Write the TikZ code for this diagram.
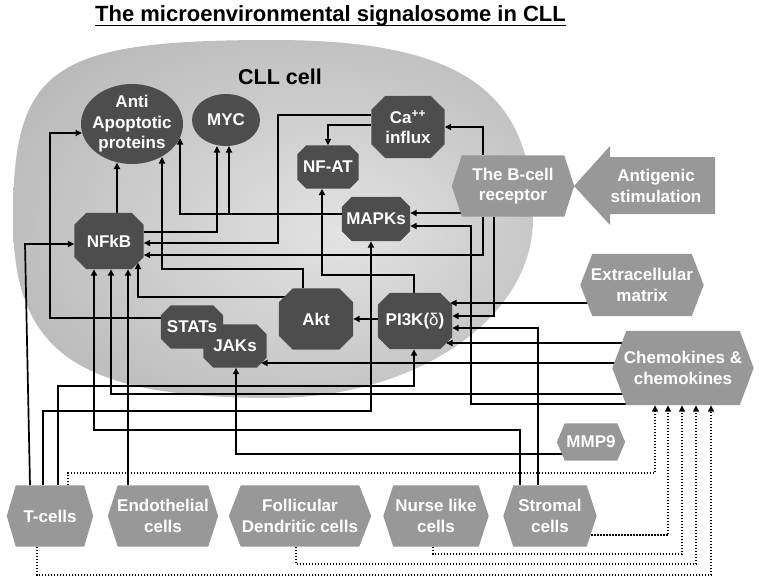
\documentclass[tikz,border=0pt]{standalone}
\usepackage{fontspec}
\setmainfont{Liberation Sans}
\usetikzlibrary{arrows.meta}
\definecolor{darkc}{RGB}{77,77,77}
\definecolor{lightc}{RGB}{152,152,152}
\definecolor{cellin}{gray}{0.89}
\definecolor{cellout}{gray}{0.73}
\pgfdeclarelayer{bg}
\pgfdeclarelayer{lines}
\pgfdeclarelayer{shapes}
\pgfsetlayers{bg,lines,shapes,main}
\pgfdeclareradialshading{cellshade}{\pgfpoint{7bp}{-2bp}}{color(0bp)=(cellin); color(31bp)=(cellout); color(50bp)=(cellout)}
\newcommand\myoct[2]{%
\fill[darkc] ([shift={(#2,0)}]#1.north west) -- ([shift={(-#2,0)}]#1.north east) -- ([shift={(0,#2)}]#1.north east) -- ([shift={(0,-#2)}]#1.south east) -- ([shift={(-#2,0)}]#1.south east) -- ([shift={(#2,0)}]#1.south west) -- ([shift={(0,-#2)}]#1.south west) -- ([shift={(0,#2)}]#1.north west) -- cycle;}
\newcommand\myhex[2]{%
\fill[lightc] (#1.west) -- ([shift={(#2,0)}]#1.north west) -- ([shift={(-#2,0)}]#1.north east) -- (#1.east) -- ([shift={(-#2,0)}]#1.south east) -- ([shift={(#2,0)}]#1.south west) -- cycle;}
\tikzset{
  lbl/.style={inner sep=0pt, text=white, font=\bfseries\fontsize{17}{20.5}\selectfont, align=center},
  arr/.style={line width=1.7pt, -{Triangle[length=6.5pt,width=6pt]}},
  dotarr/.style={line width=1.5pt, dash pattern=on 1.5pt off 1.5pt, -{Triangle[length=6.5pt,width=6pt]}},
}
\begin{document}
\begin{tikzpicture}[x=1pt,y=-1pt]
\useasboundingbox (0,0) rectangle (762,583);
% title
\node[anchor=base west, inner sep=0pt, font=\bfseries\fontsize{22}{24}\selectfont] (title) at (95,22) {The microenvironmental signalosome in CLL};
\draw[line width=1.7pt] ([shift={(0,3.5)}]title.base west) -- ([shift={(0,3.5)}]title.base east);
% cell label
\node[anchor=base, inner sep=0pt, font=\bfseries\fontsize{21.5}{24}\selectfont] (cll) at (280,85) {CLL cell};
% dark nodes
\node[lbl, minimum width=102, minimum height=80] (aap) at (132,124) {Anti\\Apoptotic\\proteins};
\node[lbl, minimum width=68, minimum height=52] (myc) at (226,120) {MYC};
\node[lbl, minimum width=61, minimum height=43] (nfat) at (328,167) {NF-AT};
\node[lbl, minimum width=73, minimum height=62] (ca) at (408,127) {Ca\textsuperscript{++}\\influx};
\node[lbl, minimum width=68, minimum height=44] (mapk) at (376,219) {MAPKs};
\node[lbl, minimum width=69, minimum height=56] (nfkb) at (109,241) {NFkB};
\node[lbl, minimum width=74, minimum height=61] (akt) at (316,319) {Akt};
\node[lbl, minimum width=74, minimum height=56] (pi3k) at (415,321) {PI3K({\mdseries δ})};
\node[lbl, minimum width=62, minimum height=43] (stats) at (192,327) {STATs};
\node[lbl, minimum width=63, minimum height=43] (jaks) at (235,346) {JAKs};
% light nodes
\node[lbl, minimum width=122, minimum height=61] (bcr) at (513,186) {The B-cell\\receptor};
\node[lbl] (antig) at (656,186) {Antigenic\\stimulation};
\node[lbl, minimum width=123, minimum height=62] (ecm) at (642,285) {Extracellular\\matrix};
\node[lbl, minimum width=141, minimum height=74] (chem) at (683,368) {Chemokines \&\\chemokines};
\node[lbl, minimum width=68, minimum height=37] (mmp9) at (591,442) {MMP9};
\node[lbl, minimum width=86, minimum height=61] (tcell) at (50,516) {T-cells};
\node[lbl, minimum width=110, minimum height=61] (endo) at (163,516) {Endothelial\\cells};
\node[lbl, minimum width=142, minimum height=61] (fdc) at (300,516) {Follicular\\Dendritic cells};
\node[lbl, minimum width=105, minimum height=61] (nurse) at (436,516) {Nurse like\\cells};
\node[lbl, minimum width=93, minimum height=61] (strom) at (550,516) {Stromal\\cells};
% shapes
\begin{pgfonlayer}{shapes}
\fill[darkc] (aap) ellipse [x radius=51pt, y radius=40pt];
\fill[darkc] (myc) ellipse [x radius=34pt, y radius=26pt];
\myoct{nfat}{9}
\myoct{ca}{14}
\myoct{mapk}{10}
\myoct{nfkb}{12}
\myoct{akt}{14}
\myoct{pi3k}{12}
\myoct{stats}{10}
\myoct{jaks}{10}
\myhex{bcr}{10}
\myhex{ecm}{12}
\myhex{chem}{14}
\myhex{mmp9}{8}
\myhex{tcell}{9}
\myhex{endo}{10}
\myhex{fdc}{12}
\myhex{nurse}{10}
\myhex{strom}{10}
\fill[lightc] ([shift={(-82,0)}]antig.center) -- ([shift={(-46,-40)}]antig.center) -- ([shift={(-46,-29)}]antig.center) -- ([shift={(59,-29)}]antig.center) -- ([shift={(59,28)}]antig.center) -- ([shift={(-46,28)}]antig.center) -- ([shift={(-46,39)}]antig.center) -- cycle;
\end{pgfonlayer}
% cell body
\begin{pgfonlayer}{bg}
\shade[shading=cellshade] (13,219) .. controls (13,67) and (52,40) .. (273,40) .. controls (460,40) and (533,90) .. (533,219) .. controls (533,318) and (416,398) .. (273,398) .. controls (78,398) and (13,353) .. cycle;
\end{pgfonlayer}
% connectors
\begin{pgfonlayer}{lines}
\draw[arr] ([shift={(8,0)}]nfkb.north) -- (117,162.5);
\draw[arr] ([shift={(0,-9)}]stats.west) -| (50,133) -- (82,133);
\draw[arr] ([shift={(0,-9)}]nfkb.east) -| (217,146);
\draw[arr] ([shift={(0,-5)}]mapk.west) -| (180,138);
\draw[arr] (229,214) -- (229,146);
\draw[arr] ([shift={(0,-12)}]ca.west) -| (278,243) -- ([shift={(0,2)}]nfkb.east);
\draw[arr] ([shift={(0,-2)}]ca.west) -| (nfat.north);
\draw[arr] ([shift={(-30,0)}]bcr.north) |- (ca.east);
\draw[arr] ([shift={(-30,0)}]bcr.south) |- ([shift={(0,14)}]nfkb.east);
\draw[arr] ([shift={(-43,27)}]bcr.center) -- ([shift={(0,-6)}]mapk.east);
\draw[arr] ([shift={(-43,36)}]chem.center) -| (471,226) -- ([shift={(0,7)}]mapk.east);
\draw[arr] ([shift={(-19,0)}]bcr.south) |- ([shift={(0,-5)}]pi3k.east);
\draw[arr] ([shift={(-42,18)}]ecm.center) -- (450,303);
\draw[arr] ([shift={(-12,0)}]strom.north) |- ([shift={(0,7)}]pi3k.east);
\draw[arr] ([shift={(-48,-25)}]chem.center) -- (446,343);
\draw[arr] ([shift={(-48,-5)}]chem.center) -- (261,363);
\draw[arr] ([shift={(8,0)}]tcell.north) |- (414,386) -- ([shift={(-1,0)}]pi3k.south);
\draw[arr] ([shift={(-43,26)}]chem.center) -| ([shift={(2,0)}]nfkb.south);
\draw[arr] ([shift={(-7,0)}]tcell.north) |- (371,411) -- ([shift={(-5,0)}]mapk.south);
\draw[arr] ([shift={(-30,0)}]strom.north) |- (94,430) -- ([shift={(-15,0)}]nfkb.south);
\draw[arr] ([shift={(-35,0)}]endo.north) -- ([shift={(19,0)}]nfkb.south);
\draw[arr] ([shift={(-21,-22)}]akt.center) -| (138,262.5);
\draw[arr] ([shift={(-13,0)}]akt.north) |- (162,269) -- (162,157);
\draw[arr] ([shift={(-1,0)}]pi3k.north) |- (322,275) -- ([shift={(-6,0)}]nfat.south);
\draw[arr] ([shift={(0,-2)}]pi3k.west) -- (akt.east);
\draw[arr] ([shift={(-20,0)}]tcell.north) -- (25,244) -- ([shift={(0,3)}]nfkb.west);
\draw[arr] ([shift={(-16,12)}]mmp9.center) -| ([shift={(1,0)}]jaks.south);
% dotted
\draw[dotarr] ([shift={(18,0)}]tcell.north) |- (655,473) -- ([shift={(-28,0)}]chem.south);
\draw[dotarr] ([shift={(35,19)}]strom.center) -| ([shift={(-15,0)}]chem.south);
\draw[dotarr] ([shift={(-3,0)}]nurse.south) |- (682,554) -- ([shift={(-1,0)}]chem.south);
\draw[dotarr] ([shift={(-4,0)}]fdc.south) |- (696,564) -- ([shift={(13,0)}]chem.south);
\draw[dotarr] ([shift={(-13,0)}]tcell.south) |- (711,575) -- ([shift={(28,0)}]chem.south);
\end{pgfonlayer}
\end{tikzpicture}
\end{document}
